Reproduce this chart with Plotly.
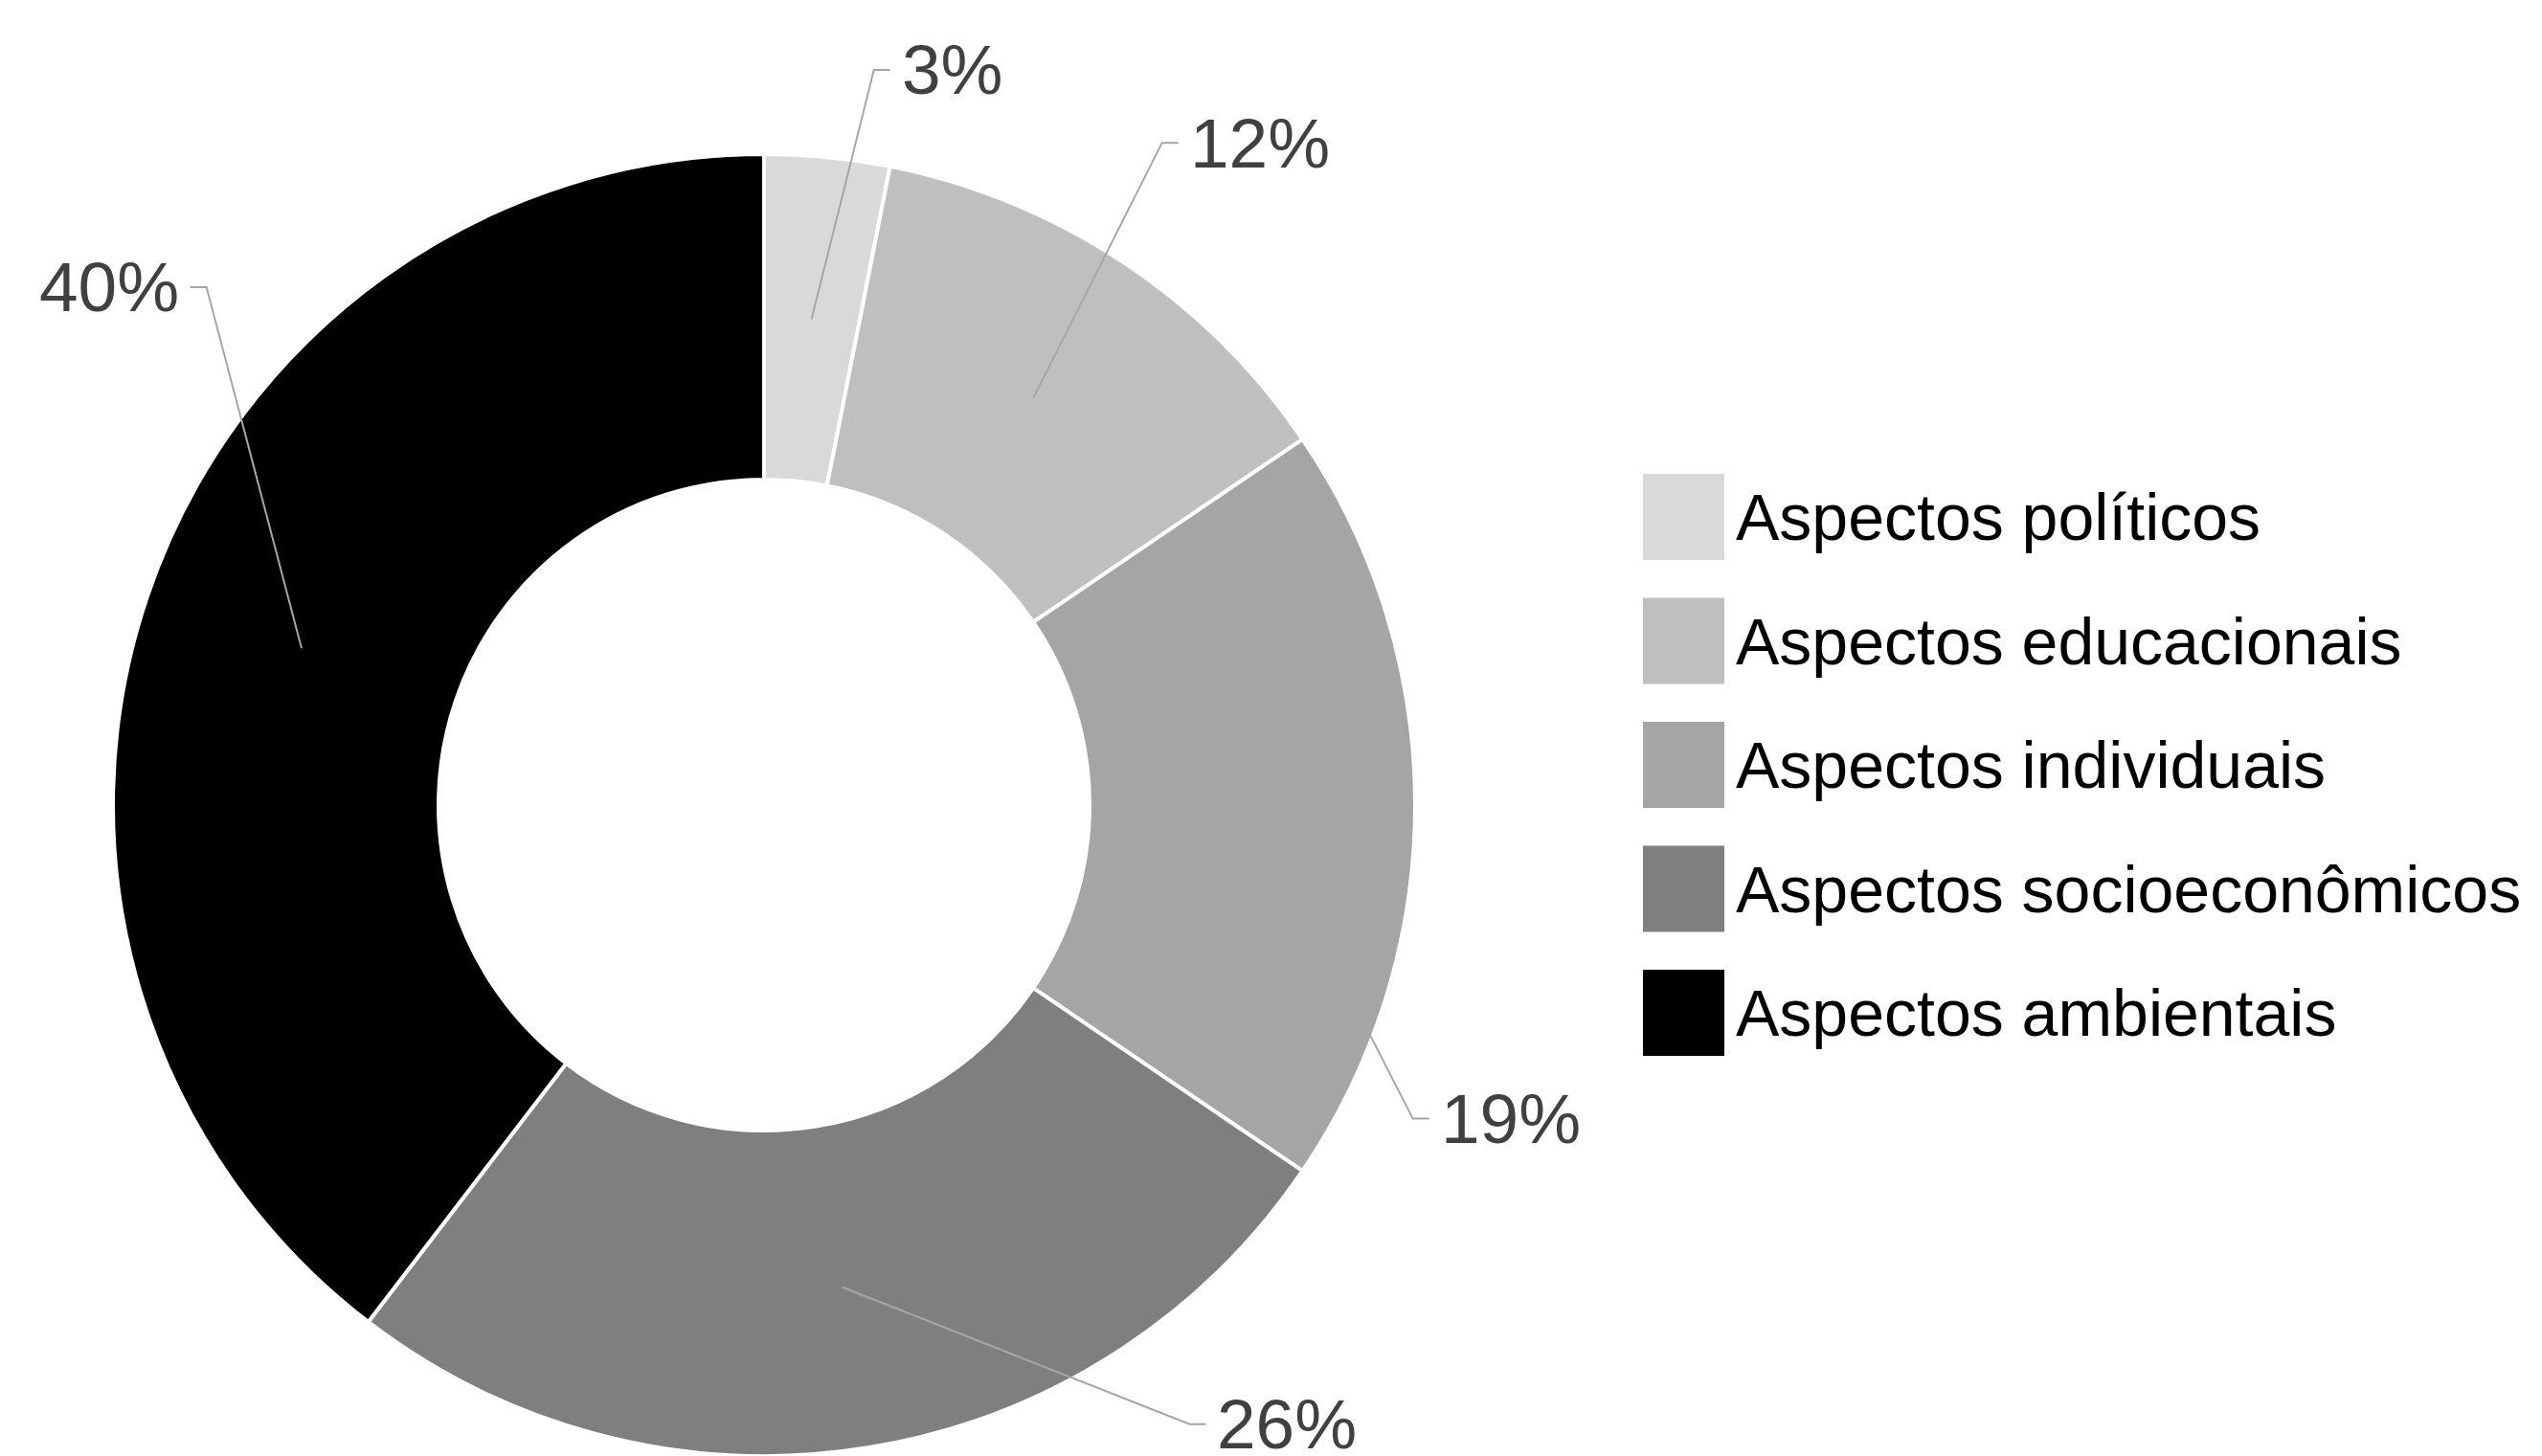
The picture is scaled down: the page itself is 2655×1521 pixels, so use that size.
import math
import plotly.graph_objects as go

# ---- data ----
categories = ["Aspectos políticos", "Aspectos educacionais", "Aspectos individuais",
              "Aspectos socioeconômicos", "Aspectos ambientais"]
values = [3.1, 12.4, 19.0, 25.9, 39.6]
colors = ["#d9d9d9", "#bfbfbf", "#a5a5a5", "#7f7f7f", "#000000"]

# ---- layout config (label placement: angle clockwise from 12 o'clock, radius in outer-radius units) ----
label_angle = [8.5, 31.0, 115.8, 145.5, 312.9]
label_radius = [1.142, 1.187, 1.107, 1.154, 1.169]

W, H = 2655, 1521
OFF = 8                          # page body margin offset
CX, CY, R = 798 - OFF, 841 - OFF, 680   # pie centre / outer radius in figure pixels
HOLE = 0.5
FONT = "Liberation Sans, Arial, sans-serif"

def px_to_paper(x, y):
    return x / W, 1 - y / H

fig = go.Figure(go.Pie(
    labels=categories, values=values, sort=False, direction="clockwise", rotation=0,
    hole=HOLE, textinfo="none", hoverinfo="label+percent",
    marker=dict(colors=colors, line=dict(color="white", width=4)),
    domain=dict(x=[(CX - R) / W, (CX + R) / W], y=[max(0, (H - CY - R) / H), (H - CY + R) / H]),
    showlegend=False,
))

total = sum(values)
shapes, annotations = [], []
cum = 0.0
r_mid = R * (1 + HOLE) / 2
for v, la, lr in zip(values, label_angle, label_radius):
    mid = (cum + v / 2) / total * 360
    cum += v
    ax = CX + r_mid * math.sin(math.radians(mid))
    ay = CY - r_mid * math.cos(math.radians(mid))
    ex = CX + R * lr * math.sin(math.radians(la))
    ey = CY - R * lr * math.cos(math.radians(la))
    side = 1 if ex >= CX else -1
    hx = ex + side * 17
    p0 = px_to_paper(ax, ay)
    p1 = px_to_paper(ex, ey)
    p2 = px_to_paper(hx, ey)
    shapes.append(dict(type="path", xref="paper", yref="paper",
                       path=f"M {p0[0]},{p0[1]} L {p1[0]},{p1[1]} L {p2[0]},{p2[1]}",
                       line=dict(color="#a6a6a6", width=2)))
    tx, ty = px_to_paper(hx + side * 10, ey)
    annotations.append(dict(xref="paper", yref="paper", x=tx, y=ty, showarrow=False,
                            text=f"{round(v / total * 100)}%",
                            xanchor="left" if side > 0 else "right", yanchor="middle",
                            font=dict(family=FONT, size=73, color="#404040")))

# ---- manual legend ----
LEG_X, LEG_Y0, LEG_STEP, SW, SH = 1716 - OFF, 495 - OFF, 129.5, 85, 90
for i, (c, name) in enumerate(zip(colors, categories)):
    top = LEG_Y0 + i * LEG_STEP
    x0, y0 = px_to_paper(LEG_X, top)
    x1, y1 = px_to_paper(LEG_X + SW, top + SH)
    shapes.append(dict(type="rect", xref="paper", yref="paper", x0=x0, y0=y1, x1=x1, y1=y0,
                       fillcolor=c, line=dict(width=0)))
    tx, ty = px_to_paper(LEG_X + SW + 10, top + SH / 2)
    annotations.append(dict(xref="paper", yref="paper", x=tx, y=ty, showarrow=False,
                            text=name, xanchor="left", yanchor="middle",
                            font=dict(family=FONT, size=68, color="#000000")))

fig.update_layout(
    width=W, height=H, margin=dict(l=0, r=0, t=0, b=0),
    paper_bgcolor="white", plot_bgcolor="white",
    shapes=shapes, annotations=annotations, showlegend=False,
)

fig.write_html("out.html")
